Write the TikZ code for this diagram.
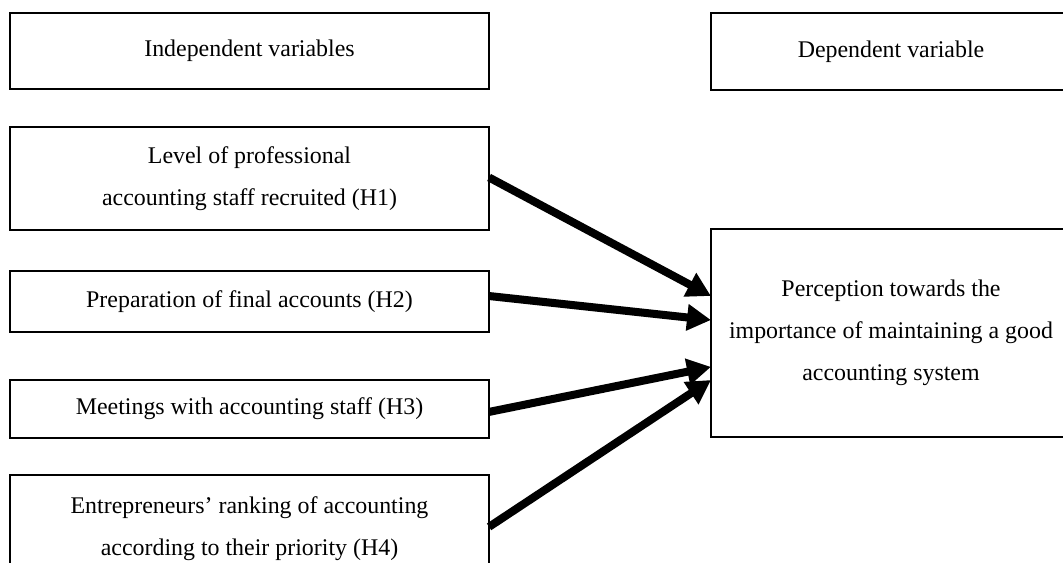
\documentclass[tikz,border=0pt]{standalone}
\usepackage{fontspec}
\setmainfont{Liberation Serif}
\usetikzlibrary{arrows.meta,calc}

\tikzset{
    varbox/.style={draw, rectangle, line width=1pt, inner sep=0pt, outer sep=0pt,
        align=center, font=\fontsize{17}{30}\selectfont},
    effect/.style={line width=5.7pt, -{Triangle[length=17pt,width=18pt]}}
}

\begin{document}
\begin{tikzpicture}[x=0.025cm, y=-0.025cm]
        \useasboundingbox (0,0) rectangle (1063,562);
        \clip (0,0) rectangle (1063,562);

        % Headers.
        \node[varbox, minimum width=11.975cm, minimum height=1.9cm] (indep) at (249.5,51) {Independent variables};
        \node[varbox, minimum width=9cm, minimum height=1.925cm] (dephead) at (891,51.5) {Dependent variable};

        % Independent variables.
        \node[varbox, minimum width=11.975cm, minimum height=2.575cm] (H1) at (249.5,178.5) {Level of professional\\accounting staff recruited (H1)};
        \node[varbox, minimum width=11.975cm, minimum height=1.525cm] (H2) at (249.5,301.5) {Preparation of final accounts (H2)};
        \node[varbox, minimum width=11.975cm, minimum height=1.45cm] (H3) at (249.5,409) {Meetings with accounting staff (H3)};
        \node[varbox, minimum width=11.975cm, minimum height=2.7cm] (H4) at (249.5,529) {Entrepreneurs' ranking of accounting\\according to their priority (H4)};

        % Dependent variable.
        \node[varbox, minimum width=9cm, minimum height=5.2cm] (dep) at (891,333) {Perception towards the\\importance of maintaining a good\\accounting system};

        \coordinate (s1) at ($(H1.north east)!0.49!(H1.south east)$);
        \coordinate (s2) at ($(H2.north east)!0.41!(H2.south east)$);
        \coordinate (s3) at ($(H3.north east)!0.55!(H3.south east)$);
        \coordinate (s4) at ($(H4.north east)!0.48!(H4.south east)$);
        \coordinate (t1) at ($(dep.north west)!0.322!(dep.south west)$);
        \coordinate (t2) at ($(dep.north west)!0.4375!(dep.south west)$);
        \coordinate (t3) at ($(dep.north west)!0.663!(dep.south west)$);
        \coordinate (t4) at ($(dep.north west)!0.726!(dep.south west)$);

        % Arrows.
        \draw[effect] (s1) -- (t1);
        \draw[effect] (s2) -- (t2);
        \draw[effect] (s3) -- (t3);
        \draw[effect] (s4) -- (t4);

\end{tikzpicture}
\end{document}
